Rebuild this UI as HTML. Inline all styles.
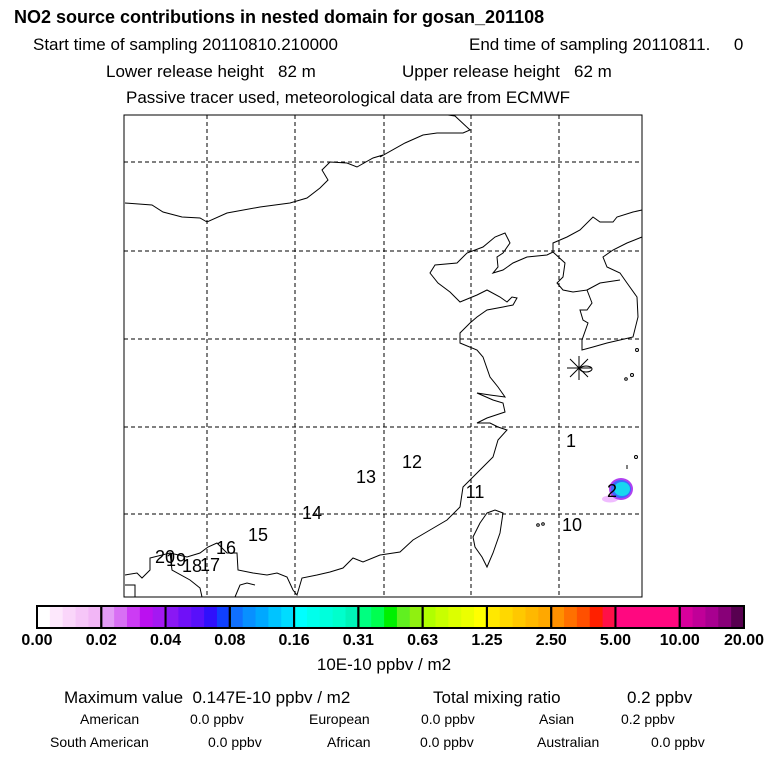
<!DOCTYPE html>
<html><head><meta charset="utf-8"><style>
body{margin:0;background:#fff;width:768px;height:768px;overflow:hidden;font-family:"Liberation Sans",sans-serif}
svg{display:block}
</style></head><body>
<svg id="c" width="768" height="768" xmlns="http://www.w3.org/2000/svg" font-family="Liberation Sans, sans-serif">
<text x="14" y="23" font-size="18" font-weight="bold">NO2 source contributions in nested domain for gosan_201108</text>
<text x="33" y="50" font-size="17">Start time of sampling 20110810.210000</text>
<text x="469" y="50" font-size="17" xml:space="preserve">End time of sampling 20110811.     0</text>
<text x="106" y="77" font-size="17" xml:space="preserve">Lower release height   82 m</text>
<text x="402" y="77" font-size="17" xml:space="preserve">Upper release height   62 m</text>
<text x="126" y="103" font-size="17">Passive tracer used, meteorological data are from ECMWF</text>

<g id="map">
<rect x="124" y="115" width="518" height="482" fill="#fff" stroke="#000" stroke-width="1"/>
<g id="grid" stroke="#000" stroke-width="1" stroke-dasharray="4,3"></g>
<g fill="none" stroke="#000" stroke-width="1">
<polyline points="125,203 152,205 163,212 182,217 200,218 207,222 227,213 260,207 290,203 307,198 320,188 328,180 322,170 330,162 347,163 357,167 373,158 383,155 380,157 405,143 423,135 437,133 463,133 470,130 455,116 448,115"/>
<polyline points="125,575 137,573 142,578 150,570 150,558 170,553 187,557 200,553 208,547 217,543 227,553 237,553 238,570 253,573 267,575 277,573 287,577 293,590 297,595 302,578 317,575 330,572 343,568 353,558 363,562 380,555 400,552 413,540 430,530 447,520 460,507 463,487 477,473 483,467 493,457 498,440 507,430 498,427 490,423 477,423 487,418 505,412 503,403 493,400 477,393 490,395 505,397 498,387 490,377 483,357 477,350 460,343 460,333 470,323 477,317 487,310 503,307 513,305 517,298 512,297 507,302 500,297 487,290 477,295 460,302 450,292 438,283 430,273 435,265 457,263 467,253 483,247 495,237 505,233 510,243 503,253 497,257 498,267 493,273 503,270 513,263 527,257 547,255 553,252 565,263 563,277 557,283 563,290 573,292 587,290 592,303 587,310 580,310 583,320 588,323 582,340 582,350 593,347 607,343 620,340 633,337 638,317 637,297 627,283 620,273 607,267 603,257 613,250 627,243 642,237"/>
<polyline points="553,252 553,243 567,237 580,230 593,217 600,222 613,222 617,217 633,212 642,210"/>
<polyline points="587,290 600,283 620,280"/>
<polyline points="170,553 172,570 190,580 200,588 202,597"/>
<polyline points="235,597 240,585 247,583 255,585"/>
<polyline points="125,585 135,585 135,597"/>
<polygon points="487,513 495,510 503,513 500,533 493,553 487,567 482,557 475,547 473,537 480,523"/>
<circle cx="538" cy="525" r="1.3"/><circle cx="543" cy="524" r="1.3"/>
<circle cx="637" cy="350" r="1.5"/><circle cx="632" cy="375" r="1.5"/><circle cx="626" cy="379" r="1.3"/><circle cx="636" cy="457" r="1.5"/>
<line x1="627" y1="465" x2="627" y2="469"/>
</g>
<g>
<ellipse cx="610" cy="499" rx="8" ry="3.5" fill="#e9a0ff" opacity="0.7"/>
<ellipse cx="621" cy="489" rx="12" ry="11" fill="#b040f0"/>
<ellipse cx="621" cy="489" rx="10" ry="9" fill="#3a6bff"/>
<ellipse cx="622" cy="489" rx="8" ry="7" fill="#18d7f0"/>
</g>
<g stroke="#000" stroke-width="1">
<line x1="567" y1="368" x2="591" y2="368"/><line x1="579" y1="356" x2="579" y2="380"/>
<line x1="570" y1="359" x2="588" y2="377"/><line x1="588" y1="359" x2="570" y2="377"/>
<ellipse cx="586" cy="369" rx="6" ry="3" fill="none"/>
</g>
<g id="labels" font-size="18" text-anchor="middle"></g>
</g>

<g id="cbar"></g>
<text x="384" y="670" font-size="17" text-anchor="middle">10E-10 ppbv / m2</text>
<text x="64" y="703" font-size="17" xml:space="preserve">Maximum value  0.147E-10 ppbv / m2</text>
<text x="433" y="703" font-size="17">Total mixing ratio</text>
<text x="627" y="703" font-size="17">0.2 ppbv</text>
<g font-size="14">
<text x="80" y="724">American</text>
<text x="190" y="724">0.0 ppbv</text>
<text x="309" y="724">European</text>
<text x="421" y="724">0.0 ppbv</text>
<text x="539" y="724">Asian</text>
<text x="621" y="724">0.2 ppbv</text>
<text x="50" y="747">South American</text>
<text x="208" y="747">0.0 ppbv</text>
<text x="327" y="747">African</text>
<text x="420" y="747">0.0 ppbv</text>
<text x="537" y="747">Australian</text>
<text x="651" y="747">0.0 ppbv</text>
</g>
</svg>
<script>
const NS="http://www.w3.org/2000/svg";
const gridX=[207,295,384,471,559];
const gridY=[162,251,339,427,514];
const trajLabels=["1","2","10","11","12","13","14","15","16","17","18","19","20"];
const trajX=[571,612,572,475,412,366,312,258,226,210,192,176,165];
const trajY=[441,491,525,492,462,477,513,535,548,565,566,560,557];
const cbarTicks=["0.00","0.02","0.04","0.08","0.16","0.31","0.63","1.25","2.50","5.00","10.00","20.00"];
const cbarColors=[
["#ffffff","#fde8fc","#fad6fa","#f6c6f8","#f2b6f6"],
["#e39cf6","#d870f4","#cc3cf4","#bb10f0","#a418f2"],
["#8a18f4","#7010f8","#5810fa","#3010fc","#1040ff"],
["#1070ff","#0890ff","#00a8ff","#00c4ff","#00dcff"],
["#00ffff","#00ffec","#00ffdc","#00ffcc","#00f4b8"],
["#00ff80","#00ff50","#00f000","#60f020","#90f010"],
["#b0ff00","#c8ff00","#dcff00","#ecff00","#ffff00"],
["#ffe800","#ffd800","#ffc800","#ffb800","#ffa800"],
["#ff9000","#ff7000","#ff5000","#ff2000","#ff1048"],
["#ff0880","#ff0880","#ff0880","#ff0880","#ff0880"],
["#d8009c","#c00098","#a80090","#880078","#580050"]];
const g=document.getElementById('grid');
gridX.forEach(x=>{const l=document.createElementNS(NS,'line');l.setAttribute('x1',x);l.setAttribute('x2',x);l.setAttribute('y1',115);l.setAttribute('y2',597);


g.appendChild(l);});
gridY.forEach(y=>{const l=document.createElementNS(NS,'line');l.setAttribute('y1',y);l.setAttribute('y2',y);l.setAttribute('x1',124);l.setAttribute('x2',642);


g.appendChild(l);});
const lg=document.getElementById('labels');
trajLabels.forEach((t,i)=>{const e=document.createElementNS(NS,'text');e.setAttribute('x',trajX[i]);e.setAttribute('y',trajY[i]+6);e.textContent=t;


lg.appendChild(e);});
const cb=document.getElementById('cbar');
const x0=37,x1=744,y0=606,h=22;
const segW=(x1-x0)/cbarColors.length;
cbarColors.forEach((cols,i)=>{
  cols.forEach((c,j)=>{const r=document.createElementNS(NS,'rect');const sw=segW/cols.length;
    r.setAttribute('x',x0+i*segW+j*sw);r.setAttribute('y',y0);r.setAttribute('width',sw+0.5);r.setAttribute('height',h);r.setAttribute('fill',c);
    
    
    cb.appendChild(r);});
});
cbarColors.forEach((cols,i)=>{const r=document.createElementNS(NS,'rect');r.setAttribute('x',x0+i*segW);r.setAttribute('y',y0);r.setAttribute('width',segW);r.setAttribute('height',h);r.setAttribute('fill','none');r.setAttribute('stroke','#000');r.setAttribute('stroke-width','2');


cb.appendChild(r);});
cbarTicks.forEach((t,i)=>{const e=document.createElementNS(NS,'text');e.setAttribute('x',x0+i*segW);e.setAttribute('y',645);e.setAttribute('text-anchor','middle');e.setAttribute('font-size','16');e.setAttribute('font-weight','bold');e.textContent=t;


cb.appendChild(e);});
</script>
</body></html>
